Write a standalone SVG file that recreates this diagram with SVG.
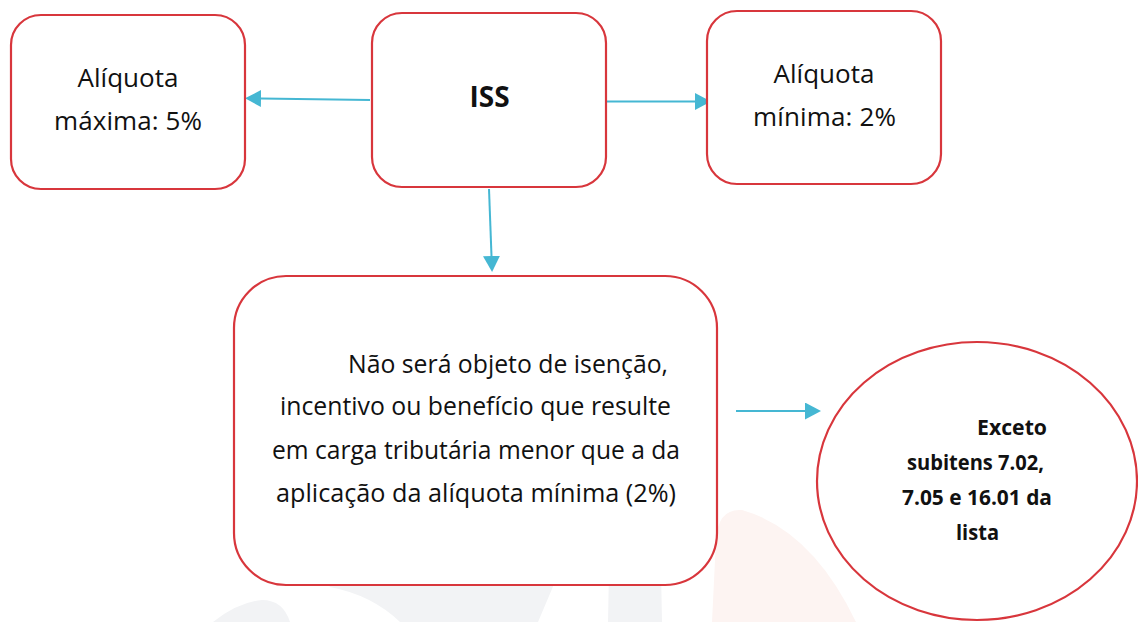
<svg xmlns="http://www.w3.org/2000/svg" width="1138" height="622" viewBox="0 0 1138 622">
  <defs>
    <marker id="arrow" markerUnits="userSpaceOnUse" markerWidth="16" markerHeight="17" refX="0" refY="8.5" orient="auto">
      <path d="M0,0 L16,8.5 L0,17 Z" fill="#45b7d3"/>
    </marker>
    <style>
      .box { fill: #ffffff; stroke: #d8363c; stroke-width: 2.2; }
      .conn { stroke: #45b7d3; stroke-width: 2; fill: none; marker-end: url(#arrow); }
      .t { font-family: "Open Sans", "Noto Sans", sans-serif; fill: #111111; }
      .big { font-size: 26px; text-anchor: middle; }
      .body { font-size: 26px; }
      .bold { font-weight: bold; }
      .wm-grey { fill: #f2f3f5; }
      .wm-pink { fill: #fdf4f2; }
    </style>
  </defs>
  <rect width="1138" height="622" fill="#ffffff"/>

  <g id="watermark">
    <path class="wm-grey" d="M213,622 Q238,602 262,600 Q283,600 290,622 Z"/>
    <path class="wm-grey" d="M320,570 L560,570 L538,622 L400,622 Q372,595 330,587 Z"/>
    <path class="wm-grey" d="M609,570 L661,570 L662,622 L608,622 Z"/>
    <path class="wm-pink" d="M712,622 L716,540 Q718,508 742,510 Q812,530 856,622 Z"/>
  </g>

  <g id="connectors">
    <line class="conn" x1="370" y1="100" x2="261" y2="98.5"/>
    <line class="conn" x1="607" y1="101.5" x2="695" y2="101.5"/>
    <line class="conn" x1="489" y1="189" x2="491.5" y2="256"/>
    <line class="conn" x1="736" y1="411" x2="805" y2="411"/>
  </g>

  <g id="node-max">
    <rect class="box" x="11" y="15" width="234" height="174" rx="30" ry="30"/>
    <text class="t big" x="128" y="87" textLength="101">Alíquota</text>
    <text class="t big" x="128" y="130" textLength="148">máxima: 5%</text>
  </g>

  <g id="node-iss">
    <rect class="box" x="372" y="13" width="234" height="174" rx="30" ry="30"/>
    <text class="t bold" x="489.5" y="107" font-size="28" text-anchor="middle">ISS</text>
  </g>

  <g id="node-min">
    <rect class="box" x="707" y="11" width="234" height="173" rx="30" ry="30"/>
    <text class="t big" x="824" y="83" textLength="101">Alíquota</text>
    <text class="t big" x="824.5" y="126" textLength="143">mínima: 2%</text>
  </g>

  <g id="node-rule">
    <rect class="box" x="234" y="276" width="483" height="309" rx="52" ry="52"/>
    <text class="t body" x="348" y="373" textLength="320" lengthAdjust="spacingAndGlyphs">Não será objeto de isenção,</text>
    <text class="t body" x="280" y="415" textLength="391" lengthAdjust="spacingAndGlyphs">incentivo ou benefício que resulte</text>
    <text class="t body" x="272" y="459" textLength="408" lengthAdjust="spacingAndGlyphs">em carga tributária menor que a da</text>
    <text class="t body" x="276" y="502" textLength="400" lengthAdjust="spacingAndGlyphs">aplicação da alíquota mínima (2%)</text>
  </g>

  <g id="node-except">
    <ellipse class="box" cx="977" cy="481" rx="160" ry="139"/>
    <text class="t bold" x="977" y="435" font-size="21" textLength="70" lengthAdjust="spacingAndGlyphs">Exceto</text>
    <text class="t bold" x="907" y="470" font-size="21" textLength="137" lengthAdjust="spacingAndGlyphs">subitens 7.02,</text>
    <text class="t bold" x="902" y="505" font-size="21" textLength="150" lengthAdjust="spacingAndGlyphs">7.05 e 16.01 da</text>
    <text class="t bold" x="956" y="540" font-size="21" textLength="43" lengthAdjust="spacingAndGlyphs">lista</text>
  </g>
</svg>
